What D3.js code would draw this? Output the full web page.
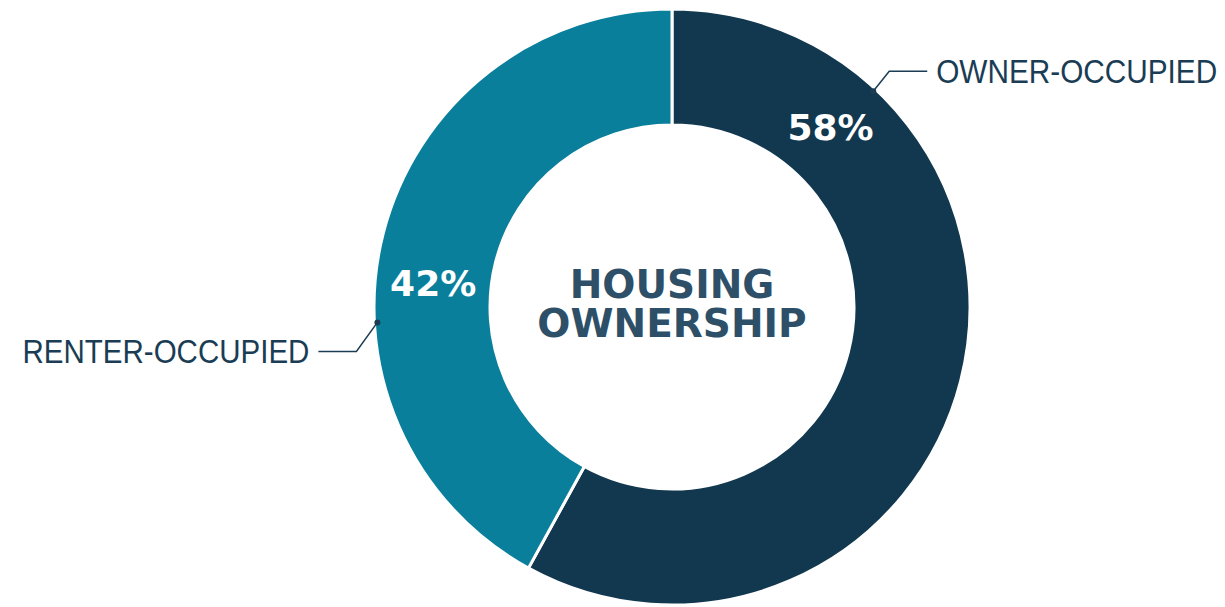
<!DOCTYPE html>
<html>
<head>
<meta charset="utf-8">
<script src="https://cdn.jsdelivr.net/npm/d3@7"></script>
<style>
  body { margin: 0; background: #fff; }
  svg { display: block; }
</style>
</head>
<body>
<svg id="chart" width="1225" height="607"></svg>
<script>
const categories = ["OWNER-OCCUPIED", "RENTER-OCCUPIED"];
const values = [58, 42];
const colors = ["#12384f", "#0a7f9b"];
const title = ["HOUSING", "OWNERSHIP"];
// where along each slice the % label and leader sit (fraction of slice)
const labelFrac = [0.198, 0.442];
const leaderFrac = [0.206, 0.385];

const width = 1225, height = 607;
const cx = 672, cy = 307;
const outerR = 298, innerR = 182;

const svg = d3.select("#chart");
const g = svg.append("g").attr("transform", `translate(${cx},${cy})`);

const pie = d3.pie().sort(null).value(d => d.value);
const arcs = pie(categories.map((c, i) => ({ name: c, value: values[i], color: colors[i] })));

const arc = d3.arc().innerRadius(innerR).outerRadius(outerR);

g.selectAll(".slice")
  .data(arcs)
  .enter()
  .append("path")
  .attr("class", "slice")
  .attr("d", arc)
  .attr("fill", d => d.data.color)
  .attr("stroke", "#fff")
  .attr("stroke-width", 3);

const angleAt = (d, f) => d.startAngle + (d.endAngle - d.startAngle) * f;
const polar = (a, r) => [Math.sin(a) * r, -Math.cos(a) * r];

// percent labels
g.selectAll(".pct")
  .data(arcs)
  .enter()
  .append("text")
  .attr("class", "pct")
  .attr("x", (d, i) => polar(angleAt(d, labelFrac[i]), (innerR + outerR) / 2)[0])
  .attr("y", (d, i) => polar(angleAt(d, labelFrac[i]), (innerR + outerR) / 2)[1])
  .attr("text-anchor", "middle")
  .attr("dy", "0.36em")
  .attr("fill", "#fff")
  .attr("font-family", "'DejaVu Sans', sans-serif")
  .attr("font-weight", "bold")
  .attr("font-size", 36)
  .text(d => d.data.value + "%");

// leader lines + category labels
arcs.forEach((d, i) => {
  const a = angleAt(d, leaderFrac[i]);
  const p0 = polar(a, outerR - 3);
  const side = Math.sin(a) >= 0 ? 1 : -1;
  const p1 = side > 0 ? [p0[0] + 16, p0[1] - 20] : [p0[0] - 21, p0[1] + 29];
  const p2 = [p1[0] + side * 38, p1[1]];
  g.append("polyline")
    .attr("points", [p0, p1, p2].map(p => p.join(",")).join(" "))
    .attr("fill", "none")
    .attr("stroke", "#1a3d55")
    .attr("stroke-width", 1.5);
  g.append("circle")
    .attr("cx", p0[0]).attr("cy", p0[1]).attr("r", 3)
    .attr("fill", "#1a3d55");
  // the reference font is a bit narrower than Liberation Sans, squeeze it
  const lbl = g.append("g")
    .attr("transform", `translate(${p2[0] + side * 9},${p2[1]})`);
  const t = lbl.append("text")
    .attr("dy", "0.36em")
    .attr("text-anchor", side > 0 ? "start" : "end")
    .attr("fill", "#1a3d55")
    .attr("font-family", "'Liberation Sans', Arial, sans-serif")
    .attr("font-size", 33)
    .text(d.data.name);
  const want = side > 0 ? 281 : 287;
  const sx = want / t.node().getComputedTextLength();
  t.attr("transform", `scale(${sx},1)`);
});

// centre title
g.append("text")
  .attr("text-anchor", "middle")
  .attr("fill", "#2d5068")
  .attr("font-family", "'DejaVu Sans', sans-serif")
  .attr("font-weight", "bold")
  .attr("font-size", 39)
  .selectAll("tspan")
  .data(title)
  .enter()
  .append("tspan")
  .attr("x", 0)
  .attr("y", (d, i) => -9 + i * 39)
  .text(d => d);
</script>
</body>
</html>
